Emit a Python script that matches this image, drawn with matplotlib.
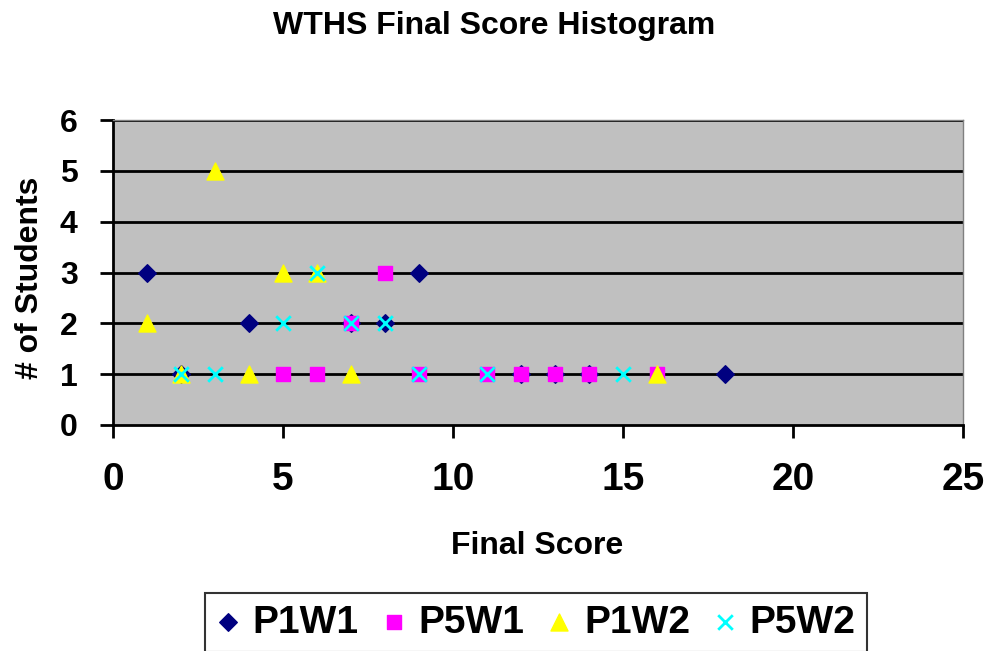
import matplotlib.pyplot as plt

plt.rcParams["font.family"] = ["Liberation Sans", "DejaVu Sans"]

# series data (final score, number of students)
p1w1_x = [1, 2, 4, 7, 8, 9, 12, 13, 14, 18]
p1w1_y = [3, 1, 2, 2, 2, 3, 1, 1, 1, 1]
p5w1_x = [5, 6, 7, 8, 9, 11, 12, 13, 14, 16]
p5w1_y = [1, 1, 2, 3, 1, 1, 1, 1, 1, 1]
p1w2_x = [1, 2, 3, 4, 5, 6, 7, 16]
p1w2_y = [2, 1, 5, 1, 3, 3, 1, 1]
p5w2_x = [2, 3, 5, 6, 7, 8, 9, 11, 15]
p5w2_y = [1, 1, 2, 3, 2, 2, 1, 1, 1]

fig = plt.figure(figsize=(9.86, 6.51), dpi=100)
ax = fig.add_axes([113 / 986, 1 - 425 / 651, 850 / 986, 305 / 651])
ax.set_facecolor("#C0C0C0")

for y in range(1, 7):
    ax.axhline(y, color="black", linewidth=2, zorder=1)

ax.scatter(p1w1_x, p1w1_y, marker="D", s=80, color="#000080", label="P1W1", zorder=3)
ax.scatter(p5w1_x, p5w1_y, marker="s", s=110, color="#FF00FF", label="P5W1", zorder=4)
ax.scatter(p1w2_x, p1w2_y, marker="^", s=150, color="#FFFF00", label="P1W2", zorder=5)
ax.scatter(p5w2_x, p5w2_y, marker="x", s=110, color="#00FFFF", linewidths=2,
           label="P5W2", zorder=6)

ax.set_xlim(0, 25)
ax.set_ylim(0, 6)
ax.set_xticks(range(0, 26, 5))
ax.set_yticks(range(0, 7))
ax.tick_params(axis="both", direction="out", length=9.5, width=2)
ax.tick_params(axis="x", pad=17, labelsize=28)
ax.tick_params(axis="y", pad=16, labelsize=23)
for lab in ax.get_xticklabels() + ax.get_yticklabels():
    lab.set_fontweight("bold")

for side in ("left", "bottom"):
    ax.spines[side].set_linewidth(2)
    ax.spines[side].set_color("black")
for side in ("top", "right"):
    ax.spines[side].set_color("#808080")
    ax.spines[side].set_linewidth(1)

fig.text(537 / 986, 1 - 546 / 651, "Final Score", fontsize=23, fontweight="bold",
         ha="center", va="center")
fig.text(30 / 986, 1 - 278 / 651, "# of Students", fontsize=23, fontweight="bold",
         ha="center", va="center", rotation=90)
fig.text(494 / 986, 1 - 26 / 651, "WTHS Final Score Histogram", fontsize=23,
         fontweight="bold", ha="center", va="center")

leg = fig.legend(loc="upper left", bbox_to_anchor=(205 / 986, 1 - 593 / 651),
                 ncol=4, prop={"weight": "bold", "size": 28},
                 frameon=True, fancybox=False, edgecolor="black",
                 handletextpad=0.33, columnspacing=0.6, borderpad=0.3,
                 markerscale=1.0, handlelength=0.6, borderaxespad=0)
leg.get_frame().set_linewidth(1.5)

fig.savefig("out.png", dpi=100)
